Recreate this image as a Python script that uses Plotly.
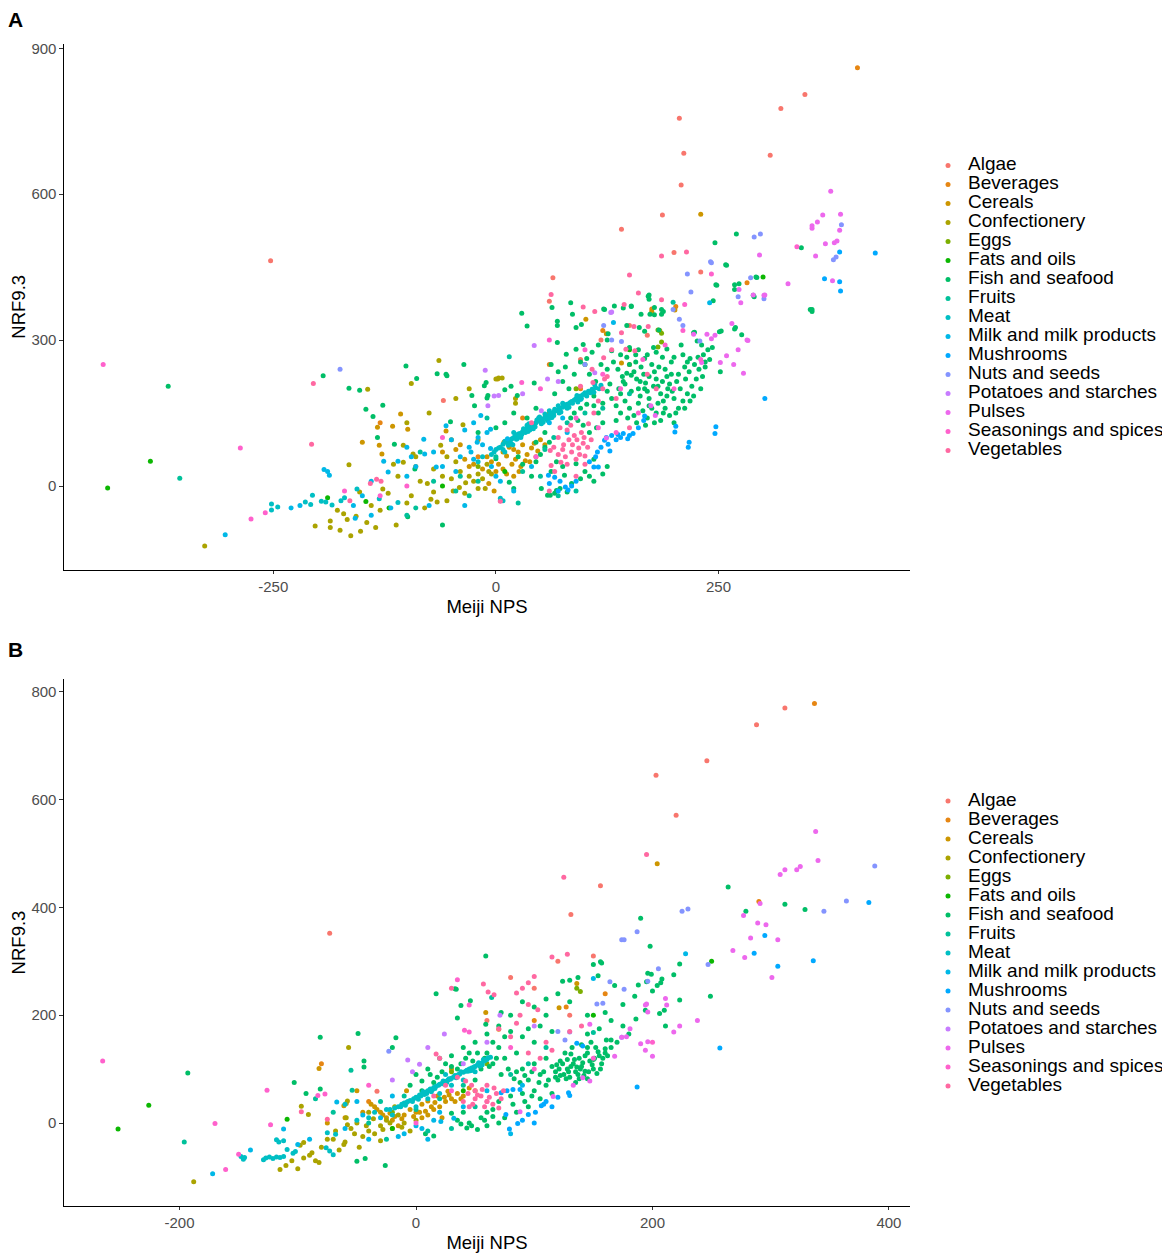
import math
import plotly.graph_objects as go

# Food groups (legend order)
categories = ["Algae", "Beverages", "Cereals", "Confectionery", "Eggs", "Fats and oils",
              "Fish and seafood", "Fruits", "Meat", "Milk and milk products", "Mushrooms",
              "Nuts and seeds", "Potatoes and starches", "Pulses", "Seasonings and spices", "Vegetables"]

# ---- Panel A: (Meiji NPS, NRF9.3) ----
algae_a = [(-253, 463), (206, 756), (211, 684), (208, 619), (320, 776), (347, 805), (308, 680), (141, 528),
           (64, 428), (187, 557), (-59, 176), (150, 330), (118, 300), (95, 260), (200, 480), (230, 440),
           (170, 310), (60, 380)]
beverages_a = [(406, 860), (282, 418), (202, 369), (175, 364), (120, 320), (60, 250), (-20, 60), (30, 140),
               (95, 200), (150, 250), (-130, 130), (-90, 40)]
cereals_a = [(-133, 121), (-116, 123), (-99, 117), (-107, 148), (-131, 84), (-128, 66), (-56, 113), (230, 559),
             (9, 90), (15, 80), (20, 75), (25, 70), (30, 85), (35, 65), (40, 78), (45, 60), (47, 72), (12, 62),
             (22, 55), (18, 45), (28, 40), (38, 50), (43, 88), (8, 70), (33, 52), (101, 343), (124, 313),
             (175, 359), (201, 362), (141, 253), (2, 220), (-20, 95), (-10, 60), (-30, 40), (0, 30),
             (-45, 75), (60, 150), (-150, 90), (-5, 50), (3, 45), (8, 35), (12, 25), (20, 20), (26, 30),
             (-15, 35), (-25, 45), (-35, 55), (-40, 85), (-50, 95), (-60, 70), (55, 85), (50, 95), (-8, 5),
             (-2, -10)]
confectionery_a = [(-144, 199), (-64, 258), (-95, 211), (-104, 84), (-93, 66), (-115, 45), (-104, 49),
                   (-165, 44), (-153, -12), (-127, -6), (-121, -15), (-112, -80), (-327, -123), (0, 220),
                   (-37, 126), (22, 180), (22, 170), (3, 222), (7, 222), (-186, -72), (-186, -85), (-203, -82),
                   (-175, -91), (-163, -102), (-152, -93), (-167, -69), (-157, -62), (-171, -57), (-178, -50),
                   (-77, 5), (-70, -12), (-73, -27), (-66, -33), (-55, -30), (-48, -10), (-41, -3), (-34, 7),
                   (-62, 84), (-55, 60), (-45, 50), (-40, 30), (-30, 20), (-25, 10), (-15, 15), (-20, -5),
                   (-10, 45), (-5, 25), (-60, 20), (-85, 10), (-95, -20), (184, 320), (-140, -40), (-130, -50),
                   (-145, -75), (-135, -85), (-100, -35), (-80, -45), (-70, 35), (-50, 15), (-35, -15),
                   (-20, 25), (-12, -5), (-8, 30), (-90, 60), (-110, 20), (-100, 130), (-75, 150), (-45, 180),
                   (-30, 200)]
eggs_a = [(182, 321), (186, 314), (182, 286), (186, 296), (90, 200), (-20, 40)]
fats_a = [(-436, -4), (-388, 51), (-189, -24), (-146, -32), (-120, -45), (-60, 0), (10, 30), (100, 250),
          (150, 280), (300, 430)]
fish_a = [(-368, 205), (-194, 227), (-165, 201), (-153, 197), (-146, 158), (-127, 166), (-138, 143), (-133, 100),
          (-114, 86), (-101, 247), (-89, 221), (-66, 231), (-55, 227), (-36, 250), (-51, 132), (-91, 35),
          (-99, -63), (-60, -80), (-24, 165), (-13, 206), (-9, 186), (-56, 230), (-27, 186), (-10, 181),
          (-11, 213), (0, 56), (15, 8), (20, -5), (10, 198), (17, 205), (43, 212), (24, 186), (29, 355),
          (35, 329), (63, 367), (69, 339), (69, 330), (84, 377), (86, 353), (90, 326), (96, 332), (122, 363),
          (133, 370), (143, 366), (152, 370), (163, 353), (173, 353), (178, 367), (171, 390), (186, 353),
          (186, 363), (69, 295), (79, 271), (90, 281), (98, 291), (62, 250), (70, 235), (75, 215), (82, 200),
          (88, 230), (66, 190), (78, 245), (95, 255), (102, 262), (108, 275), (115, 290), (125, 300),
          (130, 278), (118, 250), (105, 230), (112, 215), (125, 240), (132, 255), (140, 270), (150, 285),
          (160, 280), (170, 270), (180, 275), (192, 282), (200, 265), (210, 270), (215, 255), (137, 240),
          (142, 225), (145, 210), (150, 250), (155, 235), (158, 220), (160, 200), (163, 245), (166, 230),
          (168, 212), (170, 195), (172, 180), (175, 250), (178, 235), (180, 220), (182, 205), (185, 190),
          (188, 175), (190, 240), (192, 225), (195, 210), (198, 195), (200, 180), (140, 190), (145, 175),
          (150, 160), (155, 145), (160, 170), (165, 155), (170, 140), (175, 160), (180, 150), (185, 135),
          (190, 160), (195, 145), (200, 130), (205, 160), (210, 175), (215, 190), (220, 205), (225, 220),
          (230, 200), (205, 230), (212, 245), (218, 262), (228, 240), (235, 255), (222, 185), (232, 225),
          (140, 150), (135, 165), (130, 180), (125, 195), (120, 170), (115, 150), (110, 185), (128, 210),
          (135, 135), (51, -5), (58, -19), (68, -9), (77, 22), (90, 46), (61, -19), (66, -15), (72, -5),
          (85, 5), (95, 15), (100, 30), (105, 20), (80, -12), (110, 55), (40, 20), (30, 45), (25, 60),
          (45, 90), (55, 110), (35, 140), (45, 160), (20, 150), (10, 130), (0, 120), (-20, 110), (259, 454),
          (248, 413), (268, 414), (273, 416), (289, 392), (293, 429), (253, 319), (269, 326), (276, 311),
          (222, 315), (231, 290), (226, 298), (252, 235), (355, 363), (355, 359), (172, 393), (172, 384),
          (270, 518), (246, 500), (258, 455), (247, 414), (292, 430), (268, 404), (290, 389), (244, 381),
          (343, 490), (353, 363), (188, 359), (178, 352), (183, 321), (152, 369), (121, 364), (161, 326),
          (167, 318), (223, 316), (251, 317), (268, 323), (126, 313), (147, 330), (240, 260), (235, 245),
          (138, 200), (143, 215), (147, 232), (152, 228), (157, 255), (162, 215), (167, 200), (172, 225),
          (177, 205), (183, 245), (187, 215), (193, 200), (197, 230), (203, 215), (207, 200), (213, 220),
          (217, 235), (223, 250), (227, 265), (233, 270), (238, 280), (243, 285), (208, 290), (197, 255),
          (187, 265), (177, 285), (167, 262), (157, 270), (147, 265), (152, 195), (162, 185), (172, 165),
          (182, 170), (192, 185), (202, 150), (212, 160), (218, 175), (148, 140), (158, 130), (168, 125),
          (178, 130), (188, 150), (120, 130), (113, 120), (105, 110), (98, 125), (92, 135), (88, 150),
          (84, 140), (95, 160), (102, 168), (110, 165), (60, 90), (55, 80), (50, 65), (45, 50), (62, 30),
          (68, 50), (75, 40), (110, 10), (120, 25), (125, 40)]
fruits_a = [(-355, 16), (-90, -45), (-30, -20), (-20, 10), (-40, 20), (0, 60), (15, 266), (30, 30), (50, 20),
            (-100, -60), (-70, 10), (80, 130), (120, 160), (150, 190), (100, 150), (199, 378), (-10, 140),
            (-45, -10), (70, -20), (90, -10), (25, -35), (5, -30), (-85, 70), (55, 75), (65, 100)]
meat_a = [(5, 80), (8, 86), (12, 90), (15, 92), (18, 97), (20, 100), (22, 104), (25, 107), (27, 108), (30, 112),
          (32, 116), (35, 118), (38, 121), (40, 125), (42, 127), (45, 130), (47, 133), (50, 135), (52, 138),
          (55, 141), (57, 144), (60, 146), (62, 149), (65, 152), (67, 155), (70, 157), (72, 160), (75, 162),
          (78, 166), (80, 168), (83, 171), (85, 174), (88, 177), (90, 180), (93, 183), (95, 185), (98, 188),
          (100, 192), (104, 195), (108, 199), (112, 202), (118, 207), (28, 100), (35, 125), (48, 140),
          (58, 135), (65, 145), (70, 165), (80, 160), (60, 155), (42, 118), (20, 110), (-5, 65), (0, 75),
          (10, 70), (-15, 60), (-20, 50), (5, -25), (8, -30), (-252, -37), (-252, -49), (-245, -43),
          (-214, -33), (-208, -38), (-196, -31), (-191, -33), (-184, -39), (-206, -19), (-170, -24),
          (-174, -30), (-131, -26), (-110, -34), (-156, -6), (14, 84), (24, 98), (33, 110), (44, 122),
          (53, 131), (63, 141), (73, 152), (82, 162), (92, 173), (102, 185), (110, 193), (37, 128), (55, 148),
          (75, 170), (95, 178), (10, 92), (17, 88), (23, 96), (29, 106), (36, 112), (41, 120), (46, 136),
          (51, 128), (56, 139), (61, 140), (66, 158), (71, 150), (76, 168), (81, 165), (86, 170), (91, 186),
          (96, 180), (101, 188), (106, 192), (111, 208), (116, 200), (31, 118), (26, 102), (14, 95), (3, 78),
          (-2, 70), (8, 75), (19, 85), (38, 115), (49, 142)]
milk_a = [(-304, -100), (-193, 34), (-189, 30), (-187, 22), (-126, 51), (-110, 51), (-121, 29), (-81, 96),
          (-80, 66), (-56, 124), (-158, -66), (-67, 39), (132, 336), (240, 377), (-30, 80), (-20, 100),
          (-10, 110), (20, -10), (0, 20), (-40, 60), (-45, 30), (60, 130), (75, 140), (80, 110), (-100, 80),
          (-90, 40), (40, 40), (-17, 145), (-6, 117), (13, 97), (-21, 90), (-28, 70), (-6, 77), (-230, -45),
          (-220, -40), (-160, -40), (-150, -20), (-140, 10), (-100, 20), (-95, 60), (-70, 70), (-60, 40),
          (-50, 95), (-35, 115), (-25, 130), (-15, 85), (-5, 40), (5, 10), (-140, -60), (-118, -45),
          (-75, -40), (-35, -40), (-25, 55)]
mushrooms_a = [(124, 100), (130, 104), (137, 106), (143, 108), (150, 104), (154, 108), (114, 70), (118, 80),
               (122, 94), (128, 72), (126, 86), (110, 39), (115, 39), (59, 22), (66, 18), (72, 10), (78, -2),
               (81, -8), (167, 144), (166, 135), (202, 123), (217, 90), (247, 122), (302, 180), (426, 479),
               (386, 481), (386, 420), (387, 401), (369, 426), (148, 97), (201, 111), (246, 108), (216, 80),
               (105, 50), (112, 60), (135, 95), (140, 100), (160, 120), (85, 0), (90, 10), (60, 5), (70, -10)]
nuts_a = [(-175, 240), (290, 512), (297, 518), (379, 465), (382, 471), (388, 537), (241, 461), (215, 436),
          (219, 399), (286, 428), (272, 389), (301, 385), (199, 363), (210, 330), (121, 330), (141, 297),
          (242, 459), (206, 343), (229, 298), (130, 300), (100, 250)]
potatoes_a = [(-12, 238), (-9, 165), (-2, 185), (43, 289), (129, 357), (58, 220), (51, 155), (111, 233),
              (130, 358), (3, 186), (30, 190), (70, 215)]
pulses_a = [(376, 606), (387, 559), (367, 557), (361, 543), (355, 535), (355, 530), (386, 526), (383, 504),
            (380, 500), (370, 498), (359, 473), (328, 416), (296, 475), (378, 422), (275, 377), (289, 393),
            (302, 393), (283, 299), (231, 254), (222, 312), (237, 312), (242, 303), (246, 310), (265, 334),
            (273, 404), (301, 392), (252, 254), (259, 268), (267, 250), (278, 232), (272, 280), (282, 300),
            (179, 145), (174, 165), (124, 99)]
seasonings_a = [(-441, 250), (-287, 78), (-275, -68), (-259, -55), (29, 213), (338, 492), (212, 373),
                (242, 436), (-170, -10), (-100, 0), (50, 200), (100, 280), (140, 200), (160, 150), (200, 200),
                (60, 300), (230, 260), (-130, -20), (90, 140), (120, 230), (165, 260), (190, 290), (210, 320),
                (115, 120), (135, 110), (45, 60), (-60, 100)]
vegetables_a = [(-205, 211), (-207, 86), (-164, -30), (-141, 5), (-134, 14), (-129, 10), (5, -31), (61, 73),
                (62, 42), (73, 49), (78, 60), (76, 85), (82, 95), (85, 70), (88, 104), (90, 55), (93, 78),
                (96, 110), (98, 88), (100, 62), (80, 115), (70, 100), (104, 128), (110, 150), (115, 175),
                (120, 200), (125, 225), (108, 240), (95, 205), (62, 394), (150, 434), (186, 473), (214, 481),
                (160, 397), (186, 383), (144, 373), (111, 359), (98, 368), (155, 328), (171, 328), (141, 315),
                (146, 281), (156, 278), (121, 264), (122, 220), (109, 213), (130, 280), (170, 230), (180, 200),
                (135, 180), (150, 120), (60, -10), (40, 130), (65, 80), (70, 65), (75, 75), (80, 45), (86, 85),
                (91, 95), (94, 65), (99, 100), (103, 80), (107, 95), (72, 120), (84, 125), (66, 30), (90, 20),
                (100, 45)]

# ---- Panel B ----
algae_b = [(312, 770), (288, 739), (246, 672), (203, 645), (220, 571), (156, 440), (131, 387), (-73, 352),
           (-33, 59), (100, 250), (80, 270), (60, 190), (120, 300), (150, 310), (130, 200)]
beverages_b = [(337, 778), (290, 411), (127, 215), (70, 174), (-40, 40), (30, 100), (100, 190), (160, 240),
               (-80, 110)]
cereals_b = [(204, 481), (136, 259), (121, 214), (59, 205), (-82, 101), (-61, 32), (-59, 36), (-35, 30),
             (-30, 20), (-25, 10), (-20, 5), (-15, -5), (-10, 15), (-5, 25), (0, 20), (5, 10), (10, 15),
             (15, 25), (20, 30), (25, 40), (30, 45), (35, 55), (40, 50), (-50, 60), (-45, 20), (-75, 0),
             (-60, 10), (45, 65), (50, 60), (10, 41), (27, 59), (18, 50), (5, 35), (-8, 60), (22, 10),
             (-2, 12), (3, 20), (8, 22), (13, 30), (16, 38), (24, 48), (28, 52), (33, 40), (38, 45), (-12, 8),
             (-18, 12), (-22, 18), (-28, 15), (-33, 25), (-38, 35)]
confectionery_b = [(-188, -109), (-95, -36), (-100, -85), (-110, -79), (-115, -86), (-98, -41), (-90, -60),
                   (-85, -70), (-82, -73), (-97, 31), (-91, 16), (-57, 140), (-59, 10), (-58, -3), (-61, -40),
                   (-60, -35), (-45, -25), (-40, -15), (-35, -20), (-50, 0), (-30, -5), (-25, 5), (-20, -10),
                   (-10, 0), (-15, 15), (-5, -15), (0, 5), (-70, -30), (-65, -50), (-55, -10), (-48, -45),
                   (-58, 41), (-40, 20), (-30, -33), (-18, 30), (-105, -70), (-95, -65), (-88, -55), (-80, -45),
                   (-75, -30), (-68, -15), (-52, -20), (-42, -5), (-36, 8), (-28, -12), (-22, 0), (-12, -8)]
eggs_b = [(139, 244), (136, 250), (30, 95), (-20, 20), (60, 110)]
fats_b = [(-252, -11), (-226, 33), (-109, 7), (-20, -10), (40, 60), (150, 200), (250, 300)]
fish_b = [(-193, 93), (-103, 75), (-93, 55), (-81, 63), (-81, 159), (-49, 166), (-44, 115), (-44, 104),
          (-50, -71), (-43, -66), (-26, -79), (-17, 158), (-20, 140), (17, 240), (34, 248), (38, 218),
          (35, 195), (46, 227), (59, 310), (33, 249), (72, 205), (59, 183), (150, 294), (156, 299), (198, 328),
          (196, 278), (199, 276), (223, 295), (218, 275), (208, 267), (204, 255), (188, 256), (168, 255),
          (223, 228), (194, 209), (186, 193), (211, 180), (165, 154), (161, 154), (160, 138), (190, 380),
          (249, 235), (210, 209), (206, 203), (195, 262), (207, 260), (157, 297), (154, 273), (137, 270),
          (130, 265), (124, 263), (264, 438), (279, 393), (312, 406), (329, 396), (120, 80), (125, 90),
          (128, 100), (130, 85), (133, 110), (135, 95), (138, 120), (140, 105), (142, 88), (145, 130),
          (147, 115), (150, 100), (152, 140), (155, 125), (157, 110), (122, 115), (118, 95), (115, 105),
          (126, 130), (132, 140), (140, 145), (148, 150), (110, 120), (105, 90), (100, 110), (95, 80),
          (90, 100), (160, 130), (135, 75), (145, 82), (60, 130), (65, 150), (70, 140), (75, 160), (80, 170),
          (85, 130), (90, 160), (95, 175), (100, 150), (105, 180), (110, 200), (115, 170), (80, 200),
          (70, 180), (60, 165), (50, 150), (45, 130), (40, 140), (30, 125), (25, 110), (35, 100), (20, 120),
          (10, 100), (0, 90), (-5, 70), (5, 60), (15, 75), (55, 100), (65, 110), (75, 120), (85, 95),
          (50, 80), (40, 20), (47, -5), (43, -9), (35, 5), (45, 0), (15, -24), (8, -20), (55, 10), (60, 20),
          (65, 25), (70, 40), (80, 50), (90, 55), (100, 60), (110, 70), (60, -5), (70, 0), (85, 20), (95, 30),
          (105, 45), (115, 55), (175, 180), (180, 165), (170, 150), (165, 190), (155, 175), (145, 165),
          (100, 215), (110, 230), (120, 240), (90, 225), (130, 225), (145, 200), (160, 205), (175, 220),
          (185, 235), (200, 245), (122, 88), (128, 118), (136, 104), (143, 96), (150, 118), (153, 92),
          (131, 128), (138, 82), (119, 108), (145, 140), (118, 85), (121, 100), (124, 110), (127, 82),
          (129, 95), (131, 105), (134, 118), (137, 90), (139, 100), (141, 112), (143, 125), (146, 95),
          (149, 108), (151, 120), (154, 132), (156, 100), (158, 120), (162, 125), (165, 140), (108, 95),
          (112, 80), (104, 75), (98, 95), (92, 88), (88, 75), (83, 82), (78, 100), (72, 90), (68, 120),
          (62, 105), (58, 120), (52, 130), (48, 115), (42, 120), (38, 110), (30, 105), (22, 95), (18, 85),
          (12, 90), (5, 78), (30, 18), (38, -2), (52, -12), (58, 5), (65, 12), (75, 10), (82, 35), (92, 40),
          (98, 50)]
fruits_b = [(-196, -35), (-55, 98), (-54, 61), (-30, 40), (-10, 50), (0, 25), (20, 45), (30, -10), (50, 30),
            (-70, 20), (-40, 0), (80, 90), (110, 140), (150, 168), (64, 233), (-25, -30), (10, -15),
            (40, 70), (95, 110), (-85, 45)]
meat_b = [(-15, 30), (-12, 35), (-10, 37), (-7, 40), (-5, 42), (-2, 45), (0, 48), (3, 52), (5, 54), (8, 57),
          (10, 60), (12, 63), (15, 66), (17, 68), (20, 72), (22, 74), (25, 77), (27, 80), (30, 83), (32, 86),
          (35, 88), (37, 91), (40, 94), (42, 96), (45, 100), (47, 102), (50, 105), (52, 108), (55, 111),
          (58, 115), (60, 118), (63, 122), (-40, 10), (-50, 5), (-35, 20), (-25, 25), (-20, 15), (0, 30),
          (10, 45), (20, 55), (30, 70), (25, 90), (40, 80), (50, 95), (-60, 35), (-148, -62), (-146, -67),
          (-145, -64), (-129, -68), (-127, -65), (-124, -63), (-121, -66), (-118, -63), (-115, -64),
          (-112, -62), (-118, -31), (-116, -35), (-112, -33), (-109, -49), (-104, -56), (-102, -53),
          (-75, -18), (-68, -21), (-76, -46), (-70, -59), (-73, -52), (2, 44), (13, 58), (24, 72), (34, 84),
          (44, 96), (54, 106), (7, 53), (28, 82), (48, 98), (-13, 30), (-8, 38), (-3, 40), (1, 47), (4, 50),
          (9, 55), (14, 62), (19, 70), (23, 78), (29, 81), (33, 88), (38, 95), (43, 98), (49, 104),
          (53, 112), (57, 118), (61, 121), (-9, 33), (6, 58), (16, 64), (26, 75), (36, 90), (46, 97),
          (56, 108), (-18, 28), (-22, 25)]
milk_b = [(-172, -94), (-112, -11), (-67, 39), (228, 314), (32, 9), (21, 3), (-30, 10), (-10, -20), (0, -5),
          (20, 20), (60, 60), (80, -20), (-40, -30), (-50, 40), (10, -30), (40, 30), (-20, 50), (90, 70),
          (150, 268), (-140, -50), (-100, -40), (-90, -30), (-60, -10), (-45, 15), (-15, -25), (5, -10),
          (15, 5)]
mushrooms_b = [(257, 139), (187, 67), (141, 143), (136, 148), (129, 56), (130, 51), (108, 35), (106, 32),
               (101, 20), (95, 16), (86, -1), (79, -11), (76, 16), (72, 56), (77, 60), (82, 62), (88, 62),
               (383, 409), (295, 348), (286, 315), (306, 291), (336, 301), (110, 40), (120, 48), (115, 30),
               (90, 5), (100, 0)]
nuts_b = [(388, 477), (345, 393), (364, 412), (225, 393), (230, 397), (187, 355), (174, 340), (176, 340),
          (247, 294), (164, 262), (176, 248), (153, 221), (158, 222), (205, 286), (196, 263), (120, 170),
          (130, 169), (126, 154), (-23, 133), (174, 159)]
potatoes_b = [(24, 165), (3, 109), (-3, 95), (-7, 117), (71, 200), (-20, 80), (10, 140), (40, 110),
              (60, 150), (100, 180)]
pulses_b = [(338, 541), (340, 487), (308, 461), (312, 470), (322, 470), (325, 476), (291, 407), (277, 385),
            (289, 371), (296, 368), (283, 343), (306, 340), (268, 320), (278, 307), (301, 270), (238, 190),
            (223, 180), (218, 169), (211, 231), (212, 219), (196, 206), (194, 219), (181, 175), (190, 147),
            (196, 151), (194, 135), (200, 124), (195, 221), (174, 159), (178, 160), (168, 124), (147, 183),
            (141, 84), (147, 78), (133, 70), (116, 49), (88, 21)]
seasonings_b = [(-265, 115), (-170, -1), (-161, -86), (-150, -58), (-126, 61), (-123, -3), (-83, 51), (-77, 54),
                (35, 266), (45, 219), (41, 172), (45, 169), (30, 60), (60, 40), (100, 100), (150, 120),
                (200, 150), (-40, 70), (0, 0), (80, 140)]
vegetables_b = [(195, 498), (125, 456), (115, 308), (128, 313), (57, 258), (61, 243), (66, 238), (17, 128),
                (-97, 21), (-75, 7), (42, 78), (47, 70), (50, 60), (55, 50), (60, 40), (65, 35), (70, 28),
                (72, 45), (45, 30), (50, 45), (60, 70), (68, 55), (85, 241), (90, 250), (95, 260), (100, 272),
                (88, 200), (95, 220), (103, 210), (85, 185), (80, 160), (70, 175), (110, 150), (30, 250),
                (20, 120), (130, 170), (140, 180), (40, 40), (44, 55), (48, 35), (52, 52), (56, 62), (62, 48),
                (66, 65), (58, 30), (74, 60), (35, 85), (25, 70), (15, 50), (105, 120), (115, 135), (95, 130)]

panel_a = [algae_a, beverages_a, cereals_a, confectionery_a, eggs_a, fats_a, fish_a, fruits_a, meat_a,
           milk_a, mushrooms_a, nuts_a, potatoes_a, pulses_a, seasonings_a, vegetables_a]
panel_b = [algae_b, beverages_b, cereals_b, confectionery_b, eggs_b, fats_b, fish_b, fruits_b, meat_b,
           milk_b, mushrooms_b, nuts_b, potatoes_b, pulses_b, seasonings_b, vegetables_b]


def hue_color(h, c=100.0, l=65.0):
    # ggplot2 default discrete hue palette (polar LUV -> sRGB)
    hr = math.radians(h)
    u, v = c * math.cos(hr), c * math.sin(hr)
    y = ((l + 16) / 116) ** 3
    up = u / (13 * l) + 0.1978398
    vp = v / (13 * l) + 0.4683363
    x = 9 * y * up / (4 * vp)
    z = y * (12 - 3 * up - 20 * vp) / (4 * vp)
    rgb = [3.240479 * x - 1.537150 * y - 0.498535 * z,
           -0.969256 * x + 1.875992 * y + 0.041556 * z,
           0.055648 * x - 0.204043 * y + 1.057311 * z]
    out = []
    for t in rgb:
        t = 12.92 * t if t <= 0.0031308 else 1.055 * t ** (1 / 2.4) - 0.055
        out.append(round(255 * min(max(t, 0), 1)))
    return "#%02X%02X%02X" % tuple(out)


n = len(categories)
colors = [hue_color(15 + 360 * i / n) for i in range(n)]

FONT = "Arial, Liberation Sans, sans-serif"

fig = go.Figure()
for panel, pts_list, legend_id in [("a", panel_a, "legend"), ("b", panel_b, "legend2")]:
    for name, pts, col in zip(categories, pts_list, colors):
        fig.add_trace(go.Scatter(
            x=[p[0] for p in pts], y=[p[1] for p in pts],
            mode="markers", marker=dict(size=5, color=col),
            name=f'<span style="font-size:19px">{name}</span>',
            legend=legend_id,
            xaxis="x" if panel == "a" else "x2",
            yaxis="y" if panel == "a" else "y2",
        ))

axis_style = dict(showline=True, linecolor="black", linewidth=1.1, ticks="outside", ticklen=3.5,
                  tickcolor="#333333", tickwidth=1.1, showgrid=False, zeroline=False,
                  tickfont=dict(family=FONT, size=15, color="#4D4D4D"))
xtitle = dict(text="Meiji NPS", font=dict(family=FONT, size=18.5, color="black"), standoff=5)
ytitle = dict(text="NRF9.3", font=dict(family=FONT, size=18.5, color="black"), standoff=1)

legend_style = dict(x=1.0213, xanchor="left", yanchor="middle", font=dict(family=FONT, size=11.5, color="black"),
                    bgcolor="rgba(0,0,0,0)", itemwidth=30, tracegroupgap=0)

xticks_a = [-250, 0, 250]
xticks_b = [-200, 0, 200, 400]

# page body adds an 8px offset, so the figure is laid out 8px smaller
fig.update_layout(
    width=1162, height=1251,
    margin=dict(l=56, r=260, t=0, b=0),
    paper_bgcolor="white", plot_bgcolor="white",
    xaxis=dict(axis_style, domain=[0, 1], range=[-485, 465], tickvals=xticks_a,
               ticktext=[str(v) for v in xticks_a], anchor="y", title=xtitle),
    yaxis=dict(axis_style, domain=[0.55276, 0.97442], range=[-172, 909], tickvals=[0, 300, 600, 900],
               anchor="x", title=ytitle),
    xaxis2=dict(axis_style, domain=[0, 1], range=[-297.7, 417.8], tickvals=xticks_b,
                ticktext=[str(v) for v in xticks_b], anchor="y2", title=xtitle),
    yaxis2=dict(axis_style, domain=[0.04277, 0.46483], range=[-153.3, 823], tickvals=[0, 200, 400, 600, 800],
                anchor="x2", title=ytitle),
    legend=dict(legend_style, y=0.7626),
    legend2=dict(legend_style, y=0.2530),
    annotations=[
        dict(text="<b>A</b>", x=-0.0579, y=0.9940, xref="paper", yref="paper", showarrow=False,
             xanchor="center", yanchor="middle", font=dict(family=FONT, size=21, color="black")),
        dict(text="<b>B</b>", x=-0.0579, y=0.4884, xref="paper", yref="paper", showarrow=False,
             xanchor="center", yanchor="middle", font=dict(family=FONT, size=21, color="black")),
    ],
)

fig.write_html("out.html")
